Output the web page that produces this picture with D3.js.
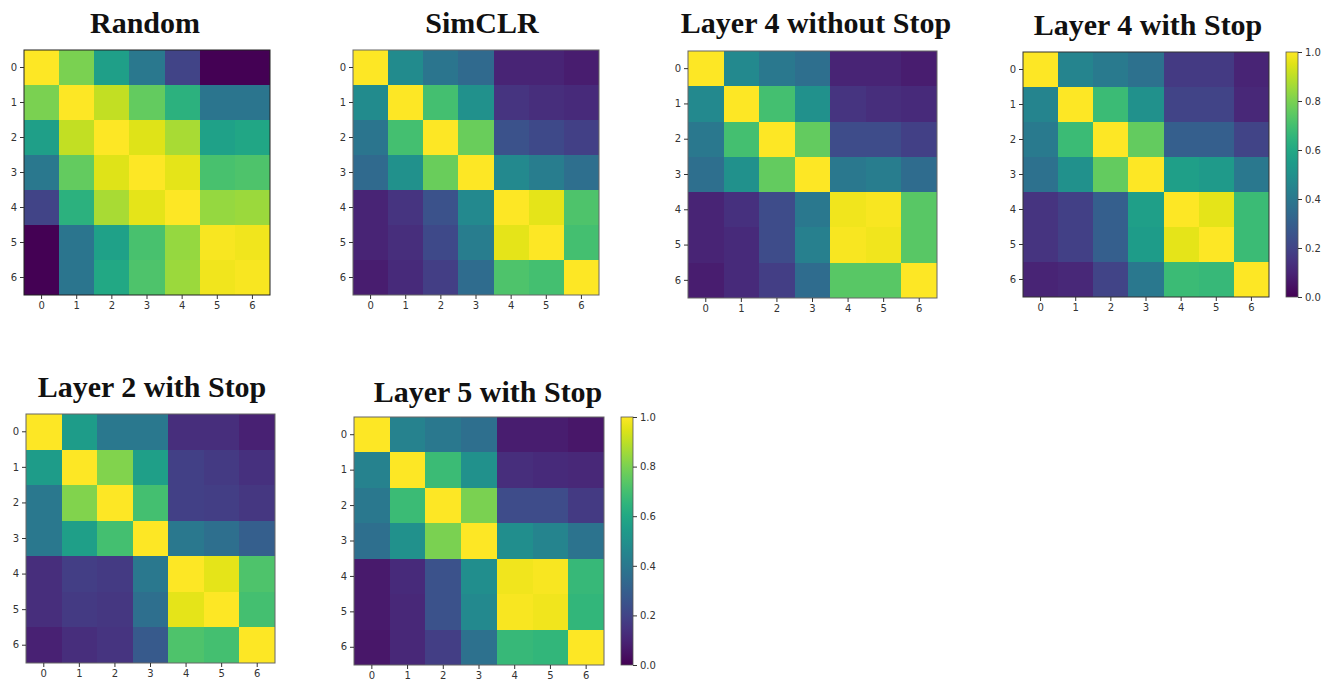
<!DOCTYPE html>
<html>
<head>
<meta charset="utf-8">
<script src="https://cdn.jsdelivr.net/npm/d3@7"></script>
<style>
  html, body { margin: 0; padding: 0; background: #fff; }
  svg { display: block; }
  .tick text { font-family: "DejaVu Sans", sans-serif; font-size: 10px; fill: #333; }
  .tick line { stroke: #333; }
  .title { font-family: "Liberation Serif", "DejaVu Serif", serif; font-weight: bold; font-size: 30px; fill: #111; }
  rect.cell { shape-rendering: crispEdges; }
</style>
</head>
<body>
<svg id="chart" width="1325" height="681"></svg>
<script>
// ---- data ----
const categories = [0, 1, 2, 3, 4, 5, 6];
const colorbarTicks = [0.0, 0.2, 0.4, 0.6, 0.8, 1.0];
const titles = ["Random", "SimCLR", "Layer 4 without Stop", "Layer 4 with Stop", "Layer 2 with Stop", "Layer 5 with Stop"];

const randomMatrix = [
  [1.00, 0.80, 0.56, 0.40, 0.20, 0.00, 0.00],
  [0.80, 1.00, 0.91, 0.76, 0.64, 0.39, 0.39],
  [0.56, 0.91, 1.00, 0.95, 0.87, 0.57, 0.59],
  [0.40, 0.76, 0.95, 1.00, 0.96, 0.71, 0.72],
  [0.20, 0.64, 0.87, 0.96, 1.00, 0.84, 0.85],
  [0.00, 0.39, 0.57, 0.71, 0.84, 0.99, 0.98],
  [0.00, 0.39, 0.60, 0.72, 0.85, 0.98, 0.99]
];
const simclrMatrix = [
  [1.00, 0.48, 0.39, 0.34, 0.10, 0.10, 0.08],
  [0.48, 1.00, 0.70, 0.50, 0.15, 0.13, 0.12],
  [0.39, 0.70, 1.00, 0.77, 0.25, 0.22, 0.19],
  [0.34, 0.50, 0.77, 1.00, 0.47, 0.42, 0.36],
  [0.10, 0.15, 0.25, 0.47, 1.00, 0.96, 0.72],
  [0.10, 0.13, 0.22, 0.42, 0.96, 1.00, 0.70],
  [0.08, 0.12, 0.18, 0.35, 0.72, 0.70, 1.00]
];
const layer4NoStopMatrix = [
  [1.00, 0.47, 0.40, 0.36, 0.10, 0.10, 0.08],
  [0.47, 1.00, 0.70, 0.50, 0.15, 0.13, 0.12],
  [0.40, 0.70, 1.00, 0.76, 0.23, 0.23, 0.19],
  [0.36, 0.50, 0.76, 1.00, 0.40, 0.42, 0.35],
  [0.10, 0.14, 0.23, 0.40, 0.98, 0.99, 0.74],
  [0.10, 0.12, 0.23, 0.43, 0.99, 0.98, 0.74],
  [0.08, 0.12, 0.18, 0.35, 0.74, 0.74, 1.00]
];
const layer4StopMatrix = [
  [1.00, 0.45, 0.41, 0.37, 0.17, 0.17, 0.10],
  [0.45, 1.00, 0.68, 0.50, 0.20, 0.20, 0.11],
  [0.41, 0.68, 1.00, 0.76, 0.30, 0.30, 0.20],
  [0.37, 0.50, 0.76, 1.00, 0.56, 0.54, 0.40],
  [0.15, 0.19, 0.30, 0.56, 1.00, 0.96, 0.68],
  [0.15, 0.19, 0.30, 0.55, 0.96, 1.00, 0.68],
  [0.10, 0.11, 0.20, 0.40, 0.68, 0.67, 1.00]
];
const layer2StopMatrix = [
  [1.00, 0.55, 0.40, 0.40, 0.13, 0.13, 0.09],
  [0.55, 1.00, 0.81, 0.56, 0.19, 0.17, 0.14],
  [0.40, 0.81, 1.00, 0.70, 0.19, 0.18, 0.16],
  [0.40, 0.56, 0.70, 1.00, 0.40, 0.36, 0.30],
  [0.13, 0.18, 0.17, 0.40, 1.00, 0.96, 0.72],
  [0.13, 0.17, 0.16, 0.36, 0.96, 1.00, 0.70],
  [0.09, 0.13, 0.15, 0.28, 0.72, 0.70, 1.00]
];
const layer5StopMatrix = [
  [1.00, 0.44, 0.40, 0.36, 0.08, 0.08, 0.06],
  [0.44, 1.00, 0.68, 0.50, 0.13, 0.12, 0.11],
  [0.40, 0.68, 1.00, 0.80, 0.23, 0.23, 0.17],
  [0.36, 0.50, 0.80, 1.00, 0.49, 0.45, 0.38],
  [0.07, 0.12, 0.25, 0.49, 0.98, 0.99, 0.67],
  [0.07, 0.11, 0.25, 0.47, 0.99, 0.98, 0.66],
  [0.06, 0.11, 0.18, 0.37, 0.67, 0.66, 1.00]
];
const matrices = [randomMatrix, simclrMatrix, layer4NoStopMatrix, layer4StopMatrix, layer2StopMatrix, layer5StopMatrix];

// ---- layout (pixels) ----
const layouts = [
  { x0: 24,   x1: 270, y0: 50,  y1: 295, tx: 145,  ty: 33,  cbar: null, spine: "#222" },
  { x0: 353,  x1: 599, y0: 50,  y1: 295, tx: 482,  ty: 33,  cbar: null, spine: "#666" },
  { x0: 688,  x1: 937, y0: 51,  y1: 298, tx: 816,  ty: 33,  cbar: null, spine: "#666" },
  { x0: 1023, x1: 1269, y0: 52, y1: 297, tx: 1148, ty: 35,  cbar: { x0: 1286, x1: 1298 }, spine: "#333" },
  { x0: 26,   x1: 275, y0: 414, y1: 663, tx: 152, ty: 397, cbar: null, spine: "#666" },
  { x0: 354,  x1: 604, y0: 417, y1: 665, tx: 488, ty: 402, cbar: { x0: 621, x1: 633 }, spine: "#666" }
];

const svg = d3.select("#chart");
const color = d3.scaleSequential(d3.interpolateViridis).domain([0, 1]);

// gradient for colorbars
const defs = svg.append("defs");
const grad = defs.append("linearGradient").attr("id", "viridisGrad")
  .attr("x1", "0").attr("y1", "1").attr("x2", "0").attr("y2", "0");
d3.range(0, 1.0001, 0.05).forEach(t => {
  grad.append("stop").attr("offset", t).attr("stop-color", d3.interpolateViridis(t));
});

matrices.forEach((m, i) => {
  const L = layouts[i];
  const g = svg.append("g");
  const x = d3.scaleBand().domain(categories).range([L.x0, L.x1]).padding(0);
  const y = d3.scaleBand().domain(categories).range([L.y0, L.y1]).padding(0);

  const cells = [];
  m.forEach((row, r) => row.forEach((v, c) => cells.push({ r, c, v })));
  g.selectAll("rect.cell").data(cells).join("rect")
    .attr("class", "cell")
    .attr("x", d => Math.round(x(categories[d.c])))
    .attr("y", d => Math.round(y(categories[d.r])))
    .attr("width", d => Math.round(x(categories[d.c]) + x.bandwidth()) - Math.round(x(categories[d.c])) + (d.c < 6 ? 1 : 0))
    .attr("height", d => Math.round(y(categories[d.r]) + y.bandwidth()) - Math.round(y(categories[d.r])) + (d.r < 6 ? 1 : 0))
    .attr("fill", d => color(d.v));

  g.append("rect")
    .attr("x", L.x0).attr("y", L.y0)
    .attr("width", L.x1 - L.x0).attr("height", L.y1 - L.y0)
    .attr("fill", "none").attr("stroke", L.spine).attr("stroke-width", 1);

  g.append("g").attr("transform", `translate(0,${L.y1})`)
    .call(d3.axisBottom(x).tickSize(4).tickPadding(3))
    .call(a => a.select(".domain").remove());
  g.append("g").attr("transform", `translate(${L.x0},0)`)
    .call(d3.axisLeft(y).tickSize(4).tickPadding(3))
    .call(a => a.select(".domain").remove());

  g.append("text").attr("class", "title")
    .attr("x", L.tx).attr("y", L.ty)
    .attr("text-anchor", "middle")
    .text(titles[i]);

  if (L.cbar) {
    const cy = d3.scaleLinear().domain([0, 1]).range([L.y1, L.y0]);
    g.append("rect")
      .attr("x", L.cbar.x0).attr("y", L.y0)
      .attr("width", L.cbar.x1 - L.cbar.x0).attr("height", L.y1 - L.y0)
      .attr("fill", "url(#viridisGrad)")
      .attr("stroke", "#555").attr("stroke-width", 0.8);
    g.append("g").attr("transform", `translate(${L.cbar.x1},0)`)
      .call(d3.axisRight(cy).tickValues(colorbarTicks).tickFormat(d3.format(".1f")).tickSize(4).tickPadding(3))
      .call(a => a.select(".domain").remove());
  }
});
</script>
</body>
</html>
